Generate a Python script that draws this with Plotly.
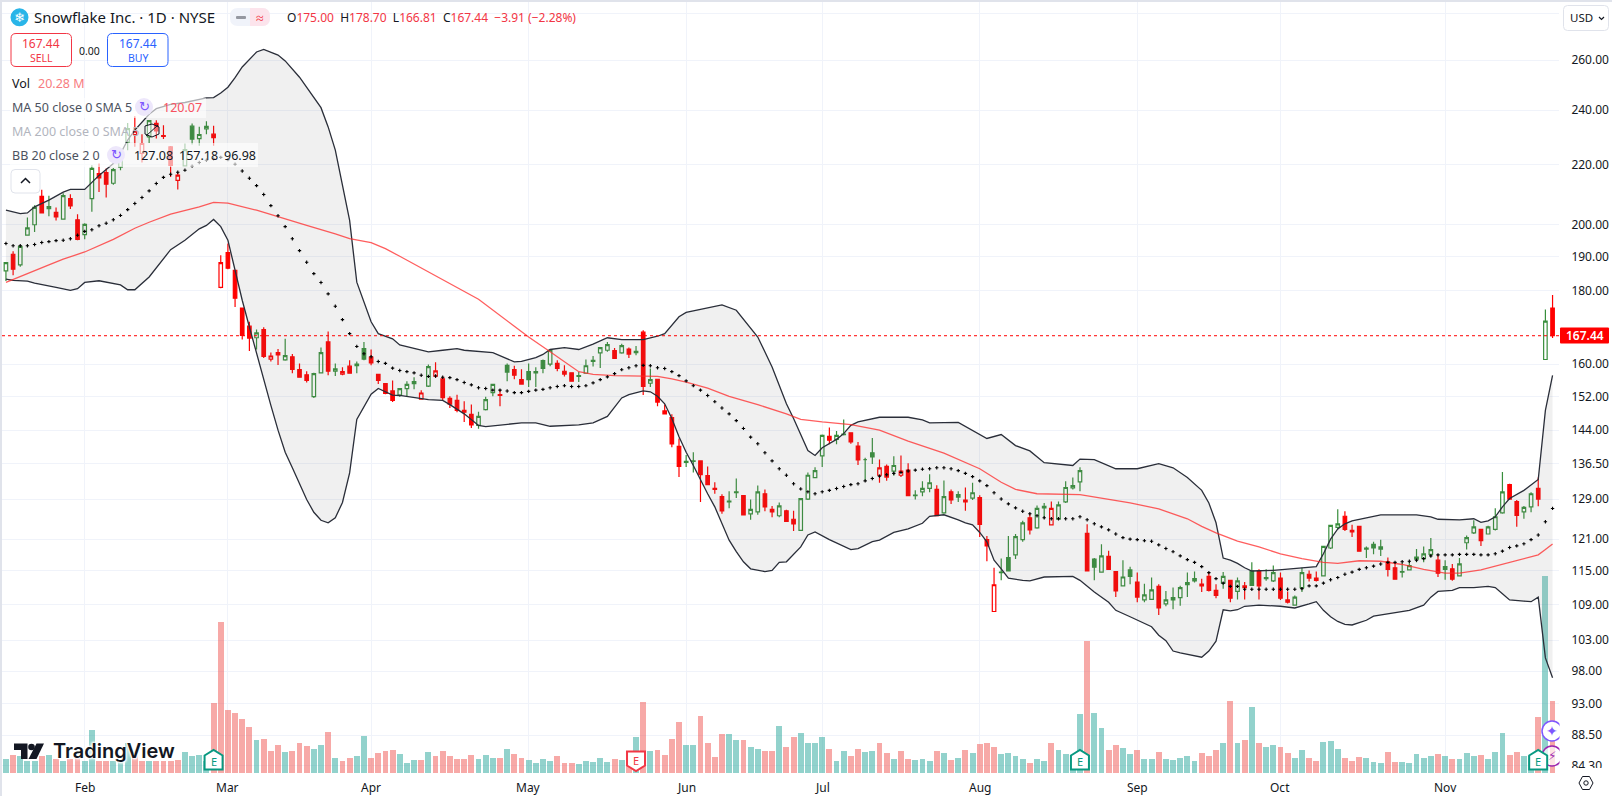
import plotly.graph_objects as go

# sessions, counted from 1 Feb (index 0), the chart opens 11 bars earlier
sessions = list(range(-11, 206))

opens = [
    185.7,190.7,187.5,196.6,199.9,209.2,205.1,203.9,201.7,208.4,
    201.5,196.8,208.4,216.9,217.3,213.6,219.2,228.2,230.9,224.0,
    230.0,235.0,230.5,226.4,214.6,219.6,234.0,229.4,233.0,231.0,
    180.9,191.2,185.9,175.0,170.0,166.9,169.1,161.3,163.0,161.1,
    161.9,158.6,157.3,151.9,157.8,165.8,158.2,157.5,159.5,160.0,
    164.0,161.8,157.4,155.1,153.3,152.3,153.9,155.1,151.3,154.5,
    157.0,156.3,151.5,151.0,148.6,147.7,145.1,148.8,152.9,152.4,
    159.7,158.6,156.1,158.1,157.8,160.9,160.0,160.2,158.2,157.8,
    156.9,157.7,160.7,162.9,163.6,163.5,162.9,163.9,163.0,168.4,
    155.2,156.2,148.5,146.9,140.3,136.8,137.0,137.1,133.9,131.2,
    129.5,128.4,130.3,129.7,126.0,126.4,130.1,126.9,125.6,126.6,
    124.9,122.7,129.0,133.5,138.2,142.6,141.9,143.0,143.4,140.4,
    137.4,138.9,134.0,135.9,134.9,134.0,135.1,129.7,130.5,131.2,
    131.0,126.2,130.5,129.9,128.4,129.2,129.3,120.9,107.8,114.7,
    117.5,118.0,120.9,125.2,123.2,127.5,123.8,124.9,128.4,131.3,
    132.6,122.1,117.2,114.8,117.7,114.9,112.3,115.2,113.0,109.8,
    109.9,112.2,109.1,109.8,110.2,112.5,113.2,112.3,114.0,111.5,
    112.8,113.3,111.3,112.0,115.0,115.0,113.6,113.2,113.7,109.8,
    108.9,112.0,114.4,113.7,114.1,119.3,123.3,125.5,122.7,123.5,
    119.1,120.0,119.1,116.7,115.6,114.8,115.2,117.6,117.3,118.1,
    117.0,115.8,115.4,114.1,120.3,122.2,122.9,122.0,122.9,126.2,
    132.0,128.5,126.4,127.4,131.2,161.2,175.0]
highs = [
    188.3,191.6,193.2,202.2,206.2,211.4,209.4,205.5,210.2,209.9,
    203.3,200.4,219.8,220.4,218.7,218.9,225.2,235.2,237.7,231.0,
    236.2,236.2,234.3,226.7,217.3,227.6,235.0,233.8,235.8,234.1,
    190.4,194.0,185.9,175.0,171.2,169.1,169.7,163.0,163.9,166.6,
    162.6,160.2,158.2,157.8,164.3,168.6,160.2,159.2,161.0,160.7,
    165.8,163.8,157.6,155.2,155.9,154.0,155.7,156.7,153.5,159.9,
    160.5,156.9,152.0,152.4,150.8,150.0,148.3,151.9,155.1,153.6,
    160.2,159.6,158.7,160.2,159.2,161.2,163.8,161.0,159.7,157.9,
    158.0,161.2,162.1,164.4,165.8,164.2,165.3,164.3,164.7,168.9,
    158.9,156.3,150.0,147.7,142.1,138.4,139.0,137.2,135.9,132.5,
    130.0,130.6,133.3,129.8,128.9,131.8,131.0,127.6,128.3,126.8,
    126.6,129.1,134.6,135.7,143.0,144.6,143.8,146.5,143.5,141.3,
    137.8,142.2,137.4,136.3,138.1,138.3,136.6,130.8,132.7,134.2,
    131.9,132.9,131.0,130.6,131.4,132.4,129.8,121.6,115.6,117.3,
    121.6,122.0,124.6,126.1,127.7,128.2,128.5,128.5,132.7,133.5,
    135.7,123.9,117.4,120.0,118.8,114.9,117.0,115.8,114.7,112.7,
    113.8,112.6,111.4,112.0,112.3,114.7,114.9,113.6,114.8,112.6,
    114.8,113.4,113.8,113.0,116.6,115.3,115.3,116.0,114.7,111.3,
    110.6,115.6,115.1,114.9,119.7,123.8,126.9,126.5,123.8,123.5,
    119.6,120.5,120.9,117.5,116.5,116.5,116.8,119.1,119.6,121.2,
    118.0,117.0,116.3,117.4,121.7,124.7,122.9,123.6,127.1,134.7,
    132.2,128.8,127.6,130.4,133.5,174.6,178.7]
lows = [
    182.7,184.4,186.9,196.6,197.6,203.7,202.6,201.3,201.5,205.0,
    195.0,195.3,204.1,210.6,208.8,213.1,218.1,225.2,226.4,220.8,
    227.8,229.4,229.2,215.7,211.5,219.6,227.2,226.8,231.0,226.8,
    180.6,186.2,175.3,166.4,163.4,163.8,161.6,160.7,159.8,160.9,
    157.7,156.7,155.4,151.6,157.8,157.2,157.0,157.2,157.7,157.7,
    161.0,159.7,155.0,152.5,150.6,151.9,151.9,153.7,151.2,154.3,
    156.5,151.1,149.2,148.2,145.9,144.5,144.3,148.6,152.0,149.6,
    155.7,156.2,155.0,154.3,154.3,157.7,159.5,158.2,156.9,155.7,
    155.5,157.6,159.4,159.0,163.2,161.3,162.7,161.6,162.3,152.3,
    154.3,149.6,147.7,140.1,133.6,135.8,134.6,128.4,132.0,130.1,
    126.0,127.1,129.2,125.7,124.8,125.8,126.5,125.3,125.3,124.4,
    122.6,122.7,128.8,133.5,135.8,140.8,140.8,142.8,140.9,136.2,
    132.9,136.4,132.4,132.8,133.9,133.6,129.6,128.9,129.6,130.4,
    125.5,126.0,128.0,128.4,126.6,128.8,121.4,116.8,107.7,113.3,
    115.0,117.2,120.5,121.9,123.0,125.0,123.7,124.8,128.2,131.0,
    130.6,115.0,113.3,114.8,115.3,110.3,112.2,112.6,109.4,109.4,
    109.9,107.2,108.7,108.2,108.8,110.3,112.9,111.2,111.3,110.1,
    111.8,109.4,109.9,109.9,112.4,109.9,113.2,113.0,109.8,109.2,
    108.8,111.2,113.1,113.1,114.0,119.1,122.9,122.6,121.4,118.6,
    117.4,118.1,117.8,114.0,113.4,113.8,115.1,116.6,116.6,117.5,
    113.9,113.4,113.2,114.0,119.0,122.0,119.7,121.9,122.7,126.0,
    128.8,123.4,125.0,126.3,127.5,161.2,166.81]
closes = [
    188.2,186.2,193.1,198.9,205.5,203.7,205.8,202.4,209.4,206.0,
    195.3,200.0,218.7,215.4,213.3,218.3,223.0,233.1,232.1,227.6,
    236.1,232.2,230.2,219.8,216.4,225.4,229.2,230.9,233.9,229.7,
    188.2,186.5,177.8,167.5,166.8,168.2,162.0,162.1,162.4,162.2,
    158.7,156.7,155.9,157.6,163.0,158.2,158.8,158.1,157.7,159.6,
    161.3,160.3,155.9,152.7,151.0,153.9,154.9,155.6,152.8,159.4,
    158.3,151.7,150.1,148.6,148.2,145.2,147.2,151.2,154.9,152.2,
    158.0,157.2,155.0,156.1,158.1,158.9,163.6,158.9,157.5,155.7,
    157.1,159.6,161.0,164.3,165.1,161.5,164.8,162.6,163.3,154.4,
    156.1,150.6,147.8,140.9,135.9,137.0,137.1,134.1,132.0,131.0,
    126.6,128.6,130.5,125.8,126.9,130.5,127.4,126.4,127.6,124.5,
    124.0,129.1,134.0,135.0,142.8,141.7,142.8,143.1,141.3,137.3,
    137.4,138.0,135.6,133.6,136.1,134.9,129.7,129.8,131.2,132.4,
    125.6,129.5,128.8,129.4,128.8,130.3,123.9,119.7,112.5,114.8,
    115.0,121.5,124.2,122.8,127.1,127.2,127.1,127.8,131.4,131.8,
    135.0,115.0,115.7,117.8,115.3,111.4,113.9,114.0,110.3,110.7,
    111.6,108.4,109.8,110.2,112.0,112.9,113.6,112.6,111.5,110.6,
    114.0,110.1,113.2,112.3,112.4,112.3,113.8,114.7,110.1,109.4,
    110.3,114.7,113.7,113.3,119.6,123.7,124.0,122.9,122.4,118.7,
    119.3,119.3,119.5,115.3,113.5,114.9,116.0,117.2,118.2,119.0,
    114.6,115.3,113.5,116.3,121.3,123.4,120.7,123.4,125.4,130.5,
    129.0,125.7,127.3,130.1,129.0,171.4,167.44]

# g = close above the previous close, r = below it
bar_dir = ("grgggrgrgr" "rggrrgggrr" "grrrrggggr" "rrrrrgrrrg" "rrrggrgrrg" "grrrrgggrg"
           "rrrrrrgggr" "grrggggrrr" "gggggrgrgr" "grrrrggrrr" "rggrggrrgr" "rggggrggrr"
           "ggrrgrrggg" "rgrgrgrrrg" "gggrggrggg" "grggrrggrg" "grgggggrrr" "grgrgrggrr"
           "ggrrgggrrr" "gggrrggggg" "rgrgggrggg" "rrggrgr")

volumes = [
    4.0,5.1,4.9,3.4,3.4,4.9,5.1,4.0,3.4,4.0,
    4.7,3.4,12.1,3.4,3.4,3.4,3.2,8.5,6.1,3.4,
    3.4,3.4,3.4,3.4,3.7,6.0,4.9,5.1,3.5,19.7,
    42.7,17.7,16.8,15.1,13.0,9.2,9.5,6.3,7.8,6.0,
    6.3,8.6,7.5,6.9,7.8,11.6,4.3,3.4,4.3,4.9,
    10.4,4.3,5.7,6.3,6.6,5.4,2.8,3.7,3.7,6.0,
    4.9,6.3,4.9,4.0,4.0,5.1,4.0,5.1,4.3,4.3,
    6.9,5.4,4.3,3.7,2.8,4.0,3.4,4.9,2.8,2.8,
    2.5,3.4,3.1,4.3,3.1,4.0,3.7,4.3,10.1,20.0,
    6.3,6.6,5.1,9.5,14.5,7.8,7.8,16.2,8.6,4.6,
    11.0,11.0,9.2,9.2,7.2,6.9,6.3,6.3,13.3,7.2,
    10.1,11.3,8.6,8.4,10.1,6.9,3.4,6.3,4.9,6.9,
    6.0,6.3,8.4,5.7,4.0,6.3,4.0,3.7,4.0,3.4,
    6.3,5.7,3.7,4.3,6.6,5.7,8.1,8.6,7.2,5.4,
    5.7,4.9,4.0,2.8,4.0,3.4,8.4,6.6,5.4,5.1,
    16.6,37.2,16.8,12.8,6.5,7.9,7.1,5.4,6.5,3.9,
    3.9,5.9,3.9,3.6,4.2,4.8,3.3,5.6,4.8,6.5,
    8.5,20.3,8.5,9.4,18.6,8.5,7.4,7.9,7.4,5.6,
    4.2,6.5,4.2,3.3,8.8,9.1,6.8,4.2,3.3,4.5,
    4.2,3.1,2.8,5.9,3.1,3.1,2.8,5.4,4.2,4.8,
    5.4,4.8,3.9,3.9,5.6,4.8,5.1,3.9,5.9,11.4,
    5.1,5.9,4.8,4.8,15.7,55.6,20.28]

# 20 day basis of the Bollinger bands, one dot per session
bb_basis = [
    194.0,193.3,193.3,193.3,193.7,194.3,194.6,194.9,195.0,195.5,
    196.6,197.8,198.3,199.6,200.4,201.5,202.9,204.8,206.8,208.8,
    211.0,213.5,215.6,216.7,217.4,218.1,219.5,220.8,221.6,222.1,
    222.6,221.8,220.2,217.8,215.3,212.8,209.8,206.1,202.8,199.3,
    195.5,191.8,188.3,184.9,182.3,179.0,175.5,171.8,168.0,164.6,
    162.7,161.9,160.7,160.2,159.0,158.4,158.1,157.8,157.2,156.9,
    157.0,156.7,156.6,156.1,155.4,154.8,154.1,153.9,153.5,153.5,
    153.3,152.9,152.9,153.2,153.5,153.7,154.1,154.4,154.6,154.4,
    154.4,154.6,155.3,156.1,156.8,157.6,158.6,159.1,159.6,159.7,
    159.6,159.1,158.9,158.1,157.1,155.8,154.6,153.5,152.2,150.7,
    149.2,147.8,146.2,144.4,142.4,140.9,138.9,137.1,135.4,134.0,
    132.2,131.1,130.5,130.1,130.5,130.8,131.2,131.6,132.0,132.2,
    132.8,133.3,133.8,134.1,134.4,134.6,134.9,135.1,135.3,135.4,
    135.6,135.6,135.4,135.0,134.4,133.7,132.8,131.8,130.3,129.0,
    128.0,127.2,126.5,126.0,125.6,125.2,125.0,125.0,125.0,125.0,
    125.4,124.8,124.0,123.4,122.8,122.0,121.3,121.0,120.9,120.7,
    120.6,119.9,119.2,118.6,117.8,117.1,116.6,115.8,114.7,113.6,
    112.8,112.2,112.2,111.7,111.7,111.7,111.7,111.7,111.7,111.7,
    111.7,111.8,112.3,112.3,112.8,113.4,113.8,114.4,114.8,115.3,
    115.6,115.9,116.3,116.6,116.6,116.7,116.8,117.0,117.3,117.8,
    118.0,118.0,118.0,118.1,118.1,118.1,118.0,118.0,118.2,118.7,
    119.4,119.7,120.1,120.9,121.8,124.4,127.08]

bb_upper_at = [
    -11,-9,-8,-7,-5,-3,-2,0,2,4,5,6,7,8,9,10,12,14,15,17,18,19,20,21,22,23,24,25,27,28,
    30,33,34,35,36,37,38,39,40,41,43,44,48,50,52,53,57,60,61,63,64,65,67,69,71,73,75,78,
    80,81,83,84,87,89,91,93,94,96,98,99,100,101,102,103,105,106,107,108,111,115,117,118,
    122,126,128,130,132,134,138,139,141,144,147,150,152,154,156,157,158,159,160,161,162,
    163,166,170,172,173,174,175,176,177,179,181,186,188,189,192,194,195,196,197,198,199,
    201,202,203,204,205]
bb_upper = [
    204.6,203.5,203.7,205.7,207.9,210.6,211.5,211.5,216.3,220.4,224.0,228.8,232.5,235.5,
    238.5,240.6,242.3,243.0,243.6,244.8,244.9,246.7,249.0,252.8,257.2,260.3,263.4,264.5,
    262.1,259.7,253.0,241.0,233.7,225.2,212.4,201.3,182.4,176.7,171.2,168.0,166.6,165.0,
    163.2,163.6,164.0,163.6,163.0,160.6,160.7,161.7,162.5,163.8,164.3,163.8,165.2,166.9,
    166.4,166.4,167.3,168.0,172.6,173.8,175.0,175.9,174.4,169.4,167.1,159.3,150.2,146.7,
    143.2,139.4,138.3,140.0,141.9,143.2,145.1,145.9,147.0,147.0,146.4,145.7,145.8,142.1,
    143.0,140.5,139.3,136.7,136.1,137.5,137.4,135.4,135.4,136.5,135.6,133.5,130.8,128.2,
    124.2,117.4,117.0,116.4,115.6,115.0,115.1,115.5,115.8,118.2,121.0,123.0,124.0,124.6,
    125.2,125.8,125.8,125.4,124.9,124.8,125.0,124.3,124.6,125.4,127.4,129.1,130.8,132.0,
    133.1,148.6,157.18]

bb_lower_at = [
    -11,-10,-8,-7,-4,-2,-1,0,2,5,6,7,9,12,14,16,17,18,19,20,21,22,23,24,25,26,27,28,29,30,
    31,32,33,34,35,36,37,38,39,40,41,42,43,44,48,50,51,53,55,56,59,61,63,65,69,71,73,74,
    75,76,78,79,80,81,82,83,84,85,86,87,88,89,90,91,92,93,94,95,96,97,98,99,100,101,102,
    104,107,108,110,111,113,115,117,118,120,122,123,124,125,126,127,128,129,131,132,134,
    138,139,141,143,144,146,149,150,151,152,153,156,157,158,159,160,161,162,164,167,169,
    171,172,173,174,175,176,177,178,179,180,182,185,187,188,189,190,191,192,194,196,197,
    198,199,201,202,203,204,205]
bb_lower = [
    183.3,182.9,182.7,182.1,180.9,180.0,180.5,182.3,182.8,181.6,180.2,180.2,183.9,192.1,
    195.0,198.6,199.7,201.6,199.3,195.0,185.9,177.2,169.8,162.7,155.9,149.8,144.0,139.0,
    135.6,132.3,128.9,126.3,124.7,124.2,125.2,128.3,134.5,146.5,149.4,152.5,153.9,153.1,
    152.3,152.2,151.2,151.0,150.0,147.8,145.1,144.8,145.3,145.7,145.7,144.9,145.2,145.7,
    147.2,149.4,151.6,152.4,153.3,153.1,152.0,150.2,146.7,142.5,139.0,136.1,132.9,130.1,
    127.4,124.0,120.8,118.6,116.7,115.4,115.1,114.9,115.1,116.6,116.7,118.1,119.5,121.8,
    122.4,120.9,119.0,119.2,120.5,120.8,122.3,123.0,124.1,125.5,125.8,124.8,124.2,123.8,
    122.3,120.5,117.0,115.4,113.7,113.3,113.2,113.9,114.0,113.3,111.2,109.4,108.0,106.9,
    105.2,103.8,102.9,101.2,100.9,100.2,101.2,102.8,108.1,107.9,108.1,108.7,108.9,108.7,
    108.4,109.1,109.5,108.0,106.9,106.1,105.6,105.5,105.9,106.3,107.0,107.4,108.0,108.9,
    110.3,111.3,111.4,111.5,112.0,112.0,112.2,112.0,110.9,109.8,109.6,109.5,110.3,100.1,
    96.98]

ma50_at = [
    -11,-10,-8,-5,-3,0,4,7,9,12,16,18,20,24,27,31,35,37,40,42,44,50,55,60,62,65,67,69,71,
    74,78,80,82,84,87,90,94,98,100,103,107,111,115,120,125,128,130,133,139,142,146,150,
    154,156,158,161,164,167,170,173,175,178,181,184,187,190,192,195,197,200,203,204,205]
ma50 = [
    182.3,183.2,184.9,187.5,189.2,191.4,195.3,198.8,200.7,203.3,205.7,207.2,206.9,204.6,
    202.4,199.7,197.0,195.5,194.3,192.4,190.1,183.2,177.5,170.0,167.1,163.2,160.6,158.1,
    157.4,157.1,157.0,156.9,156.3,155.5,154.0,152.0,150.0,147.8,146.5,145.9,145.3,144.0,
    141.5,138.8,135.4,132.5,131.0,130.1,129.9,129.2,128.2,127.0,125.0,123.5,122.2,120.6,
    119.5,118.2,117.3,116.6,116.4,116.9,116.8,116.2,115.3,114.6,114.6,115.2,115.9,117.0,
    118.0,119.0,120.07]

month_at = [0, 20, 40, 62, 84, 103, 125, 147, 167, 190]
month_names = ["Feb", "Mar", "Apr", "May", "Jun", "Jul", "Aug", "Sep", "Oct", "Nov"]
price_ticks = [84.3, 88.5, 93, 98, 103, 109, 115, 121, 129, 136.5, 144, 152, 160, 180, 190, 200, 220, 240, 260, 280]
price_labels = ["84.30", "88.50", "93.00", "98.00", "103.00", "109.00", "115.00", "121.00", "129.00", "136.50",
                "144.00", "152.00", "160.00", "180.00", "190.00", "200.00", "220.00", "240.00", "260.00", ""]
earnings_up = [18, 139, 203]
earnings_down = [77]
last_price = 167.44

GREEN = "#388e3c"
RED = "#ff0000"
DARK = "#131722"
TV_RED = "#f23645"
GRID = "#f0f3fa"
FONT = "Noto Sans"

W, H = 1612, 796
L, R, T, B = 2, 53, 2, 23
PLOT_W, PLOT_H = W - L - R, H - T - B
BAR_PX = 7.16


def fx(x):
    return (x - L) / PLOT_W


def fy(y):
    return 1 - (y - T) / PLOT_H


def bar_px(i):
    return 84.7 + BAR_PX * i


def rrect(x0, y0, x1, y1, r):
    a, b, c, d = fx(x0), fx(x1), fy(y0), fy(y1)
    rx, ry = r / PLOT_W, r / PLOT_H
    return (f"M{a+rx},{c} L{b-rx},{c} Q{b},{c} {b},{c-ry} L{b},{d+ry} Q{b},{d} {b-rx},{d} "
            f"L{a+rx},{d} Q{a},{d} {a},{d+ry} L{a},{c-ry} Q{a},{c} {a+rx},{c} Z")


def poly(points):
    return "M" + " L".join(f"{fx(x)},{fy(y)}" for x, y in points) + " Z"


def pshape(path, fill="rgba(0,0,0,0)", line=None, width=1):
    return dict(type="path", xref="paper", yref="paper", path=path, fillcolor=fill, layer="above",
                line=dict(color=line or "rgba(0,0,0,0)", width=width if line else 0))


def rect(x0, y0, x1, y1, fill):
    return dict(type="rect", xref="paper", yref="paper", x0=fx(x0), x1=fx(x1), y0=fy(y0), y1=fy(y1),
                fillcolor=fill, line=dict(width=0), layer="above")


def circle(cx, cy, r, fill="rgba(0,0,0,0)", line=None, width=1):
    return dict(type="circle", xref="paper", yref="paper", x0=fx(cx - r), x1=fx(cx + r), y0=fy(cy + r), y1=fy(cy - r),
                fillcolor=fill, layer="above", line=dict(color=line or "rgba(0,0,0,0)", width=width if line else 0))


def label(x, y, text, size=13, color=DARK, anchor="left", family=FONT, **font_extra):
    return dict(xref="paper", yref="paper", x=fx(x), y=fy(y), text=text, showarrow=False, xanchor=anchor,
                yanchor="middle", borderpad=0, font=dict(family=family, size=size, color=color, **font_extra))


fig = go.Figure()

fig.add_trace(go.Bar(x=sessions, y=volumes, yaxis="y", width=0.82,
                     marker=dict(color=["rgba(38,166,154,0.5)" if d == "g" else "rgba(239,83,80,0.5)" for d in bar_dir],
                                 line=dict(width=0))))

fig.add_trace(go.Scatter(x=bb_lower_at, y=bb_lower, yaxis="y2", mode="lines", line=dict(color="#2a2e39", width=1.3)))
fig.add_trace(go.Scatter(x=bb_upper_at, y=bb_upper, yaxis="y2", mode="lines", line=dict(color="#2a2e39", width=1.3),
                         fill="tonexty", fillcolor="rgba(120,120,120,0.11)"))
fig.add_trace(go.Scatter(x=ma50_at, y=ma50, yaxis="y2", mode="lines", line=dict(color="rgba(255,40,40,0.75)", width=1.3)))
fig.add_trace(go.Scatter(x=sessions, y=bb_basis, yaxis="y2", mode="markers",
                         marker=dict(symbol="cross-thin", size=2.4, color="#000000", line=dict(width=1.1, color="#000000"))))

for code, color in (("g", GREEN), ("r", RED)):
    pick = [k for k, d in enumerate(bar_dir) if d == code]
    fig.add_trace(go.Candlestick(
        x=[sessions[k] for k in pick],
        open=[opens[k] for k in pick],
        high=[highs[k] for k in pick],
        low=[lows[k] for k in pick],
        close=[closes[k] for k in pick],
        yaxis="y2", whiskerwidth=0,
        increasing=dict(line=dict(color=color, width=1.2), fillcolor="rgba(0,0,0,0)"),
        decreasing=dict(line=dict(color=color, width=1.2), fillcolor=color)))

shapes = [
    dict(type="line", xref="paper", yref="y2", x0=0, x1=1, y0=last_price, y1=last_price, layer="above",
         line=dict(color=RED, width=1, dash="dot")),
    rect(0, 0, 2, H, "#e0e3eb"),
    rect(0, 0, W, 2, "#e0e3eb"),
    # legend rows are washed out over the candles
    rect(10, 98, 206, 118, "rgba(255,255,255,0.62)"),
    rect(10, 120, 133, 142, "rgba(255,255,255,0.62)"),
    rect(10, 143, 258, 167, "rgba(255,255,255,0.62)"),
    # title logo and pill
    circle(19.5, 17.3, 9, fill="#29b5e8"),
    pshape(rrect(230, 8, 270, 26, 8), fill="#f0f3fa"),
    pshape(f"M{fx(250)},{fy(8)} L{fx(262)},{fy(8)} Q{fx(270)},{fy(8)} {fx(270)},{fy(17)} "
           f"Q{fx(270)},{fy(26)} {fx(262)},{fy(26)} L{fx(250)},{fy(26)} Z", fill="#fce4ec"),
    pshape(rrect(236, 16, 246, 19, 1), fill="#9598a1"),
    # sell / buy
    pshape(rrect(11, 33.5, 71.5, 66.5, 5), fill="#ffffff", line=TV_RED, width=1),
    pshape(rrect(107.5, 33.5, 168, 66.5, 5), fill="#ffffff", line="#2962ff", width=1),
    # indicator icons
    circle(144, 107, 9, fill="#ede7fb"),
    circle(116, 155, 9, fill="#ede7fb"),
    pshape(poly([(145, 126), (152, 124), (159, 127), (159, 134), (152, 137), (145, 134)]), fill="rgba(255,255,255,0.4)",
           line=DARK, width=1),
    dict(type="line", xref="paper", yref="paper", x0=fx(146), x1=fx(158), y0=fy(136), y1=fy(125), layer="above",
         line=dict(color=DARK, width=1)),
    # collapse button
    pshape(rrect(11, 169.5, 40, 193, 4), fill="#ffffff", line="#e0e3eb", width=1),
    pshape(f"M{fx(21)},{fy(183)} L{fx(25.5)},{fy(178.5)} L{fx(30)},{fy(183)}", line=DARK, width=1.5),
    # USD button
    rect(1559, 2, W, 36, "#ffffff"),
    pshape(rrect(1563.5, 5.5, 1608.5, 30.5, 4), fill="#ffffff", line="#e0e3eb", width=1),
    pshape(f"M{fx(1599)},{fy(17)} L{fx(1601.5)},{fy(19.5)} L{fx(1604)},{fy(17)}", line=DARK, width=1.2),
    # last price tag
    pshape(rrect(1560, 327.5, 1609, 343.5, 1), fill=RED),
    # TradingView mark
    pshape(poly([(14, 743.6), (27.5, 743.6), (27.5, 759), (21, 759), (21, 750), (14, 750)]), fill=DARK),
    circle(31.5, 747, 3.3, fill=DARK),
    pshape(poly([(36.5, 743.6), (44, 743.6), (36.5, 759), (28.5, 759)]), fill=DARK),
    # right side badges, then the time axis strip that hides the clipped label
    circle(1552, 731, 10, fill="#ffffff", line="#7e57ff", width=1.5),
    circle(1552, 756, 10, fill="rgba(255,255,255,0.7)", line="#9c27b0", width=1.5),
    rect(1559.5, 718, 1566, 768, "#ffffff"),
    rect(1559.5, 768, W, H, "#ffffff"),
    pshape(poly([(1579, 783), (1582.5, 776.5), (1589.5, 776.5), (1593, 783), (1589.5, 789.5), (1582.5, 789.5)]),
           fill="#ffffff", line=DARK, width=1),
    circle(1586, 783, 2.2, fill="#ffffff", line=DARK, width=1),
]

annotations = [
    label(19.5, 17, "❄", size=13, color="#ffffff", anchor="center", family="DejaVu Sans"),
    label(33, 17, "Snowflake Inc. · 1D · NYSE", size=15),
    label(259.5, 17, "≈", size=14, color=TV_RED, anchor="center"),
    label(286, 17, (f"O<span style='color:{TV_RED}'>175.00</span>  H<span style='color:{TV_RED}'>178.70</span>  "
                    f"L<span style='color:{TV_RED}'>166.81</span>  C<span style='color:{TV_RED}'>167.44</span>  "
                    f"<span style='color:{TV_RED}'>−3.91 (−2.28%)</span>"), size=12),
    label(41, 43.5, "167.44", size=12, color=TV_RED, anchor="center"),
    label(41, 58, "SELL", size=10.5, color=TV_RED, anchor="center"),
    label(89, 50.5, "0.00", size=10.5, anchor="center"),
    label(138, 43.5, "167.44", size=12, color="#2962ff", anchor="center"),
    label(138, 58, "BUY", size=10.5, color="#2962ff", anchor="center"),
    label(11, 83.5, "Vol", size=12.5),
    label(37, 83.5, "20.28 M", size=12.5, color="#f77c80"),
    label(11, 107.5, "MA 50 close 0 SMA 5", size=12.5, color="#4c525e"),
    label(144, 107, "↻", size=13, color="#7e57ff", anchor="center", family="DejaVu Sans"),
    label(162, 107.5, "120.07", size=12.5, color="#f7525f"),
    label(11, 131.5, "MA 200 close 0 SMA 5", size=12.5, color="#b2b5be"),
    label(11, 155.5, "BB 20 close 2 0", size=12.5, color="#4c525e"),
    label(116, 155, "↻", size=13, color="#7e57ff", anchor="center", family="DejaVu Sans"),
    label(133, 155.5, "127.08", size=12.5),
    label(178, 155.5, "157.18", size=12.5),
    label(223, 155.5, "96.98", size=12.5),
    label(1569, 17.5, "USD", size=11.5),
    label(1584.5, 335.5, "167.44", size=12, color="#ffffff", anchor="center", weight=600),
    label(52, 751, "TradingView", size=20, family="Inter", weight=600,
          shadow="0 0 2px #fff, 0 0 3px #fff, 0 0 4px #fff, 1px 1px 2px #fff, -1px -1px 2px #fff"),
    label(1552, 731, "✦", size=14, color="#7e57ff", anchor="center", family="DejaVu Sans"),
    label(1552, 756, "⚡", size=12, color="#9c27b0", anchor="center", family="DejaVu Sans"),
]

# month names sit under their first session
for at, name in zip(month_at, month_names):
    annotations.append(dict(xref="x", yref="paper", x=at, y=fy(787), text=name, showarrow=False, xanchor="center",
                            yanchor="middle", font=dict(family=FONT, size=12, color=DARK)))

# earnings badges sit on the baseline under their session
for i in earnings_up:
    c = bar_px(i)
    shapes.append(pshape(poly([(c - 9, 755.5), (c, 750), (c + 9, 755.5), (c + 9, 769.5), (c - 9, 769.5)]),
                         fill="#ffffff", line="#089981", width=2))
    annotations.append(label(c, 761, "E", size=11, color="#089981", anchor="center"))
for i in earnings_down:
    c = bar_px(i)
    shapes.append(pshape(poly([(c - 9, 751.5), (c + 9, 751.5), (c + 9, 765.5), (c, 771), (c - 9, 765.5)]),
                         fill="#ffffff", line=TV_RED, width=2))
    annotations.append(label(c, 760.5, "E", size=11, color=TV_RED, anchor="center"))

fig.update_layout(
    width=W, height=H, showlegend=False, autosize=False,
    margin=dict(l=L, r=R, t=T, b=B, pad=0),
    paper_bgcolor="#ffffff", plot_bgcolor="#ffffff",
    font=dict(family=FONT, size=12, color=DARK),
    bargap=0, hovermode=False,
    shapes=shapes, annotations=annotations,
    xaxis=dict(range=[-11.55, 205.9], tickmode="array", tickvals=month_at, showticklabels=False,
               showgrid=True, gridcolor=GRID, gridwidth=1, zeroline=False, showline=False,
               ticks="", rangeslider=dict(visible=False)),
    yaxis=dict(range=[0, 217.4], visible=False, fixedrange=True, showgrid=False),
    yaxis2=dict(overlaying="y", side="right", type="log", range=[1.9206, 2.4553],
                tickmode="array", tickvals=price_ticks, ticktext=price_labels,
                showgrid=True, gridcolor=GRID, gridwidth=1, zeroline=False, showline=False,
                ticks="outside", ticklen=9, tickcolor="rgba(0,0,0,0)", tickfont=dict(size=12, color=DARK)),
)

# the page has the browser's default body margin unless it is cleared
fig.write_html("out.html", config=dict(displayModeBar=False),
               post_script="document.body.style.margin='0'; document.body.style.overflow='hidden';")
